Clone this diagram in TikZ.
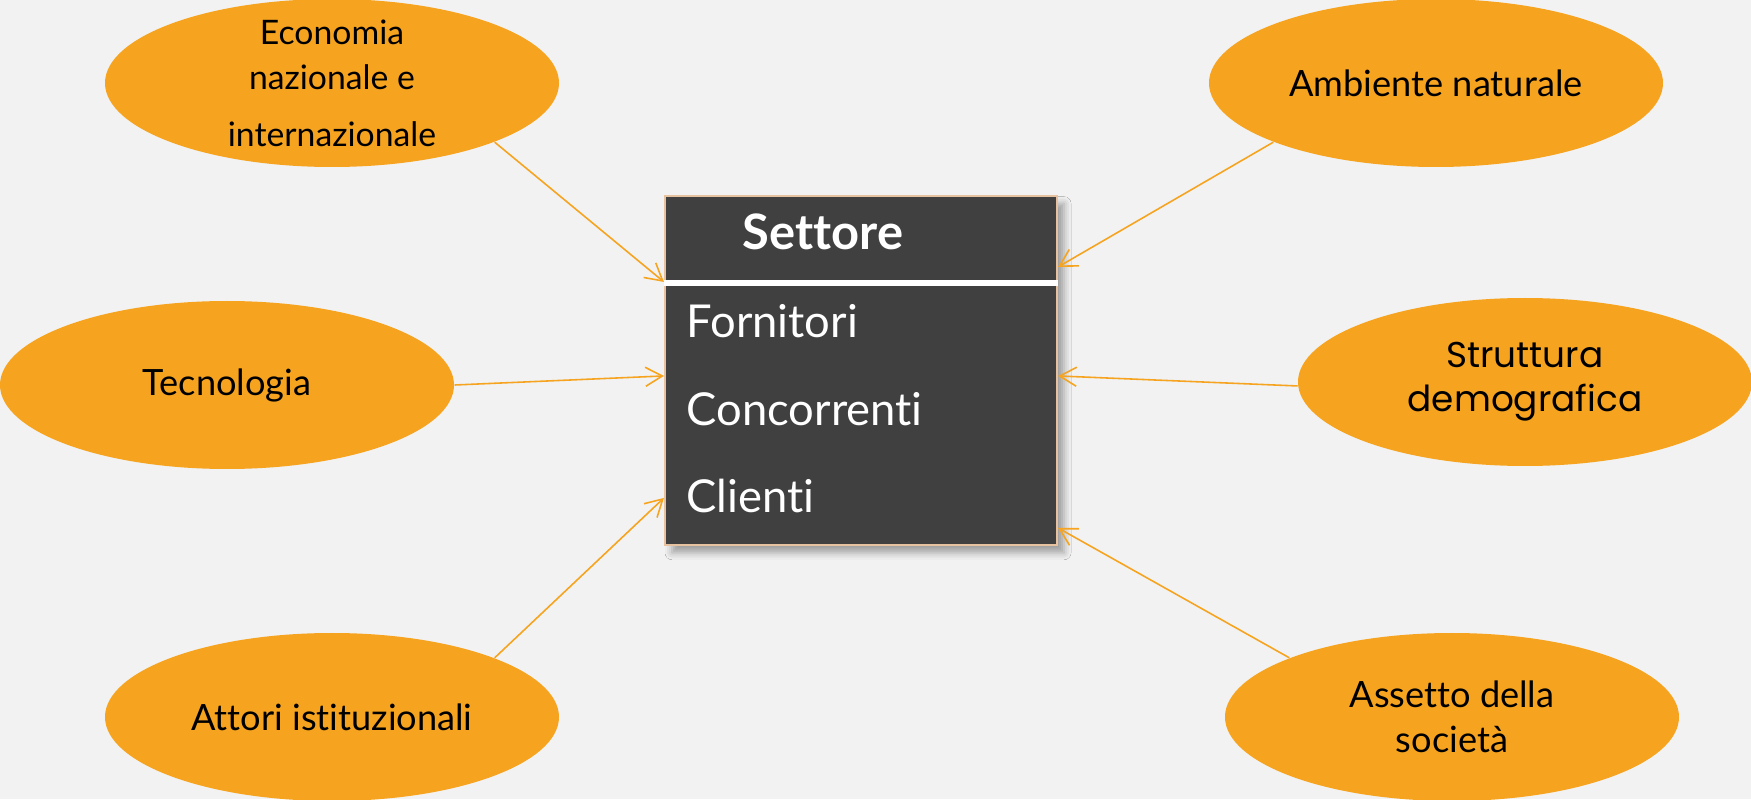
\documentclass[tikz,border=0pt]{standalone}
\usepackage{fontspec}
\setmainfont{Lato}[Ligatures={NoCommon,NoDiscretionary}]
\newfontfamily\comicfont{Poppins}
\usetikzlibrary{positioning,calc,shapes.geometric,arrows.meta,shadows.blur}

\definecolor{sfondo}{HTML}{F2F2F2}
\definecolor{arancio}{HTML}{F6A41F}
\definecolor{grigioscuro}{HTML}{404040}
\definecolor{bordino}{HTML}{E6C2A0}

\begin{document}
\begin{tikzpicture}
    \tikzstyle{fattore}=[ellipse,fill=arancio,minimum width=4.54cm,minimum height=1.68cm,inner sep=0pt,align=center,font=\fontsize{10.3}{12.8}\selectfont]
    \tikzstyle{voce}=[text=white,inner sep=0pt,font=\fontsize{12.9}{15}\selectfont]
    \tikzstyle{freccia}=[draw=arancio,line width=0.45pt,-{Straight Barb[length=4.8pt,width=5.4pt]}]

    \useasboundingbox (0,0) rectangle (17.51,7.99);
    \fill[sfondo] (0,0) rectangle (17.51,7.99);

    % il settore al centro
    \node[fill=grigioscuro,draw=bordino,line width=0.6pt,minimum width=3.92cm,minimum height=3.49cm,inner sep=0pt,
      blur shadow={shadow xshift=2pt,shadow yshift=-2.2pt,shadow blur radius=2pt,shadow opacity=35}] at (8.61,4.285) (settore) {};
    \draw[white,line width=1.7pt] ($(settore.west)+(0,0.875)$) -- ($(settore.east)+(0,0.875)$);
    \node[voce,anchor=base,font=\fontsize{13.9}{16}\selectfont\bfseries] at (8.23,5.49) (titolo) {Settore};
    \foreach \v [count=\i] in {Fornitori,Concorrenti,Clienti} {
      \node[voce,anchor=base west] at (6.86,5.485-0.875*\i) (v\i) {\v};
    }

    % fattori esterni
    \node[fattore,inner ysep=-3pt,font=\fontsize{9.6}{12.8}\selectfont] at (3.32,7.16) (economia) {Economia\\nazionale e\\[3.4pt]internazionale};
    \node[fattore] at (2.27,4.14) (tecnologia) {Tecnologia};
    \node[fattore] at (3.32,0.82) (attori) {Attori istituzionali};
    \node[fattore] at (14.36,7.16) (ambiente) {Ambiente naturale};
    \node[fattore,font=\comicfont\fontsize{10.2}{12.5}\selectfont] at (15.25,4.17) (struttura) {Struttura\\demografica};
    \node[fattore] at (14.52,0.82) (assetto) {Assetto della\\società};

    \draw[freccia] (economia.-20) -- ($(settore.north west)+(0,-0.87)$);
    \draw[freccia] (tecnologia.east) -- ($(settore.north west)+(0,-1.81)$);
    \draw[freccia] (attori.20) -- ($(settore.north west)+(0,-3.03)$);
    \draw[freccia] (ambiente.200) -- ($(settore.north east)+(0,-0.72)$);
    \draw[freccia] (struttura.181.5) -- ($(settore.north east)+(0,-1.81)$);
    \draw[freccia] (assetto.160) -- ($(settore.north east)+(0,-3.33)$);
\end{tikzpicture}
\end{document}
